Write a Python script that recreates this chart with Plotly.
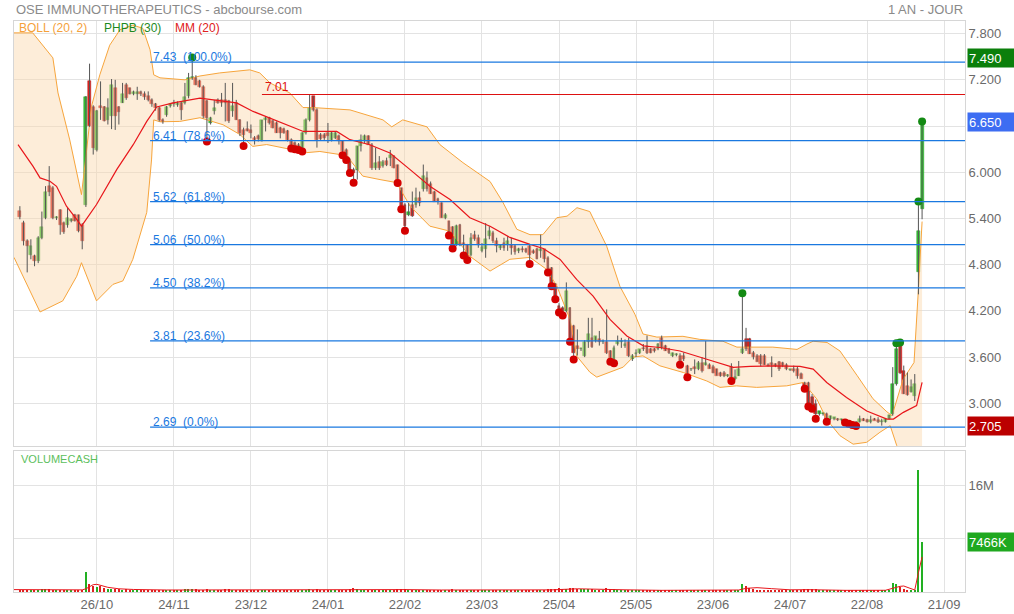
import plotly.graph_objects as go

# ---------------- DATA ----------------
opens = [
    5.50, 5.34, 5.11, 4.92, 4.91, 4.85, 5.15, 5.40, 5.82, 5.80,   # 0-9
    5.40, 5.51, 5.34, 5.31, 5.37, 5.44, 5.44, 5.31, 5.58, 7.19,   # 10-19
    6.85, 6.29, 6.86, 6.85, 6.68, 6.73, 7.09, 6.85, 6.90, 7.135,  # 20-29
    7.09, 7.02, 7.01, 7.04, 7.02, 6.99, 6.94, 6.88, 6.83, 6.68,   # 30-39
    6.75, 6.86, 6.90, 6.87, 6.90, 6.90, 6.985, 7.22, 7.22, 7.18,  # 40-49
    7.11, 6.92, 6.64, 6.79, 6.94, 6.94, 6.94, 6.92, 6.79, 6.90,   # 50-59
    6.68, 6.55, 6.56, 6.55, 6.45, 6.47, 6.40, 6.68, 6.70, 6.66,   # 60-69
    6.64, 6.57, 6.56, 6.53, 6.42, 6.38, 6.36, 6.30, 6.51, 6.68,   # 70-79
    6.985, 6.81, 6.49, 6.49, 6.51, 6.42, 6.45, 6.47, 6.40, 6.29,  # 80-89
    6.16, 6.03, 6.03, 6.34, 6.40, 6.47, 6.36, 6.06, 6.13, 6.08,   # 90-99
    6.14, 6.19, 6.21, 6.10, 5.80, 5.58, 5.45, 5.58, 5.58, 5.67,   # 100-109
    5.78, 5.93, 5.85, 5.75, 5.65, 5.60, 5.41, 5.37, 5.29, 5.06,   # 110-119
    5.32, 5.08, 5.06, 4.93, 5.19, 5.15, 4.98, 5.00, 5.17, 5.21,   # 120-129
    5.11, 5.02, 5.08, 5.06, 5.06, 5.04, 4.98, 5.00, 5.00, 5.04,   # 130-139
    4.98, 5.00, 4.98, 5.00, 4.89, 4.76, 4.55, 4.27, 4.24, 4.20,   # 140-149
    4.24, 4.00, 3.75, 3.70, 3.62, 3.79, 3.85, 3.81, 3.83, 3.79,   # 150-159
    3.79, 3.68, 3.55, 3.77, 3.79, 3.75, 3.79, 3.57, 3.64, 3.66,   # 160-169
    3.72, 3.75, 3.70, 3.70, 3.70, 3.85, 3.75, 3.70, 3.62, 3.63,   # 170-179
    3.62, 3.62, 3.49, 3.44, 3.47, 3.44, 3.53, 3.50, 3.50, 3.47,   # 180-189
    3.44, 3.40, 3.40, 3.355, 3.47, 3.31, 3.36, 3.66, 3.84, 3.84,  # 190-199
    3.65, 3.62, 3.62, 3.62, 3.50, 3.52, 3.51, 3.54, 3.53, 3.50,   # 200-209
    3.43, 3.44, 3.44, 3.38, 3.27, 3.27, 3.08, 2.99, 2.86, 2.86,   # 210-219
    2.86, 2.80, 2.80, 2.80, 2.78, 2.78, 2.76, 2.745, 2.76, 2.76,  # 220-229
    2.80, 2.79, 2.76, 2.80, 2.79, 2.755, 2.76, 2.80, 2.86, 3.25,  # 230-239
    3.77, 3.42, 3.23, 3.15, 3.10, 4.70, 5.52,                     # 240-246
]
highs = [
    5.56, 5.37, 5.13, 5.13, 4.93, 5.17, 5.49, 5.82, 6.08, 5.82,
    5.43, 5.52, 5.36, 5.54, 5.40, 5.46, 5.45, 5.34, 6.99, 7.41,
    6.87, 6.81, 7.18, 6.86, 6.96, 7.21, 7.20, 6.86, 7.16, 7.16,
    7.10, 7.06, 7.11, 7.06, 7.05, 7.05, 6.96, 6.90, 6.85, 6.70,
    6.86, 6.90, 6.94, 6.92, 6.92, 7.16, 7.29, 7.49, 7.26, 7.20,
    7.13, 6.94, 6.72, 6.94, 6.96, 7.03, 7.16, 6.94, 7.16, 6.94,
    6.69, 6.58, 6.66, 6.62, 6.47, 6.49, 6.68, 6.73, 6.72, 6.68,
    6.66, 6.59, 6.58, 6.55, 6.44, 6.40, 6.38, 6.52, 6.70, 7.01,
    6.99, 6.83, 6.51, 6.51, 6.64, 6.53, 6.53, 6.49, 6.41, 6.31,
    6.18, 6.06, 6.34, 6.49, 6.49, 6.48, 6.38, 6.32, 6.21, 6.16,
    6.19, 6.29, 6.22, 6.10, 5.80, 5.60, 5.60, 5.75, 5.80, 5.75,
    6.10, 6.01, 5.88, 5.76, 5.67, 5.61, 5.47, 5.37, 5.30, 5.32,
    5.33, 5.19, 5.07, 5.21, 5.24, 5.19, 5.08, 5.34, 5.30, 5.24,
    5.15, 5.06, 5.15, 5.17, 5.15, 5.06, 5.02, 5.04, 5.02, 5.06,
    5.00, 5.02, 5.19, 5.00, 4.91, 4.77, 4.56, 4.30, 4.26, 4.57,
    4.25, 4.02, 3.96, 3.72, 3.82, 4.11, 4.11, 3.87, 3.94, 3.83,
    4.22, 3.69, 3.75, 3.88, 3.85, 3.83, 3.85, 3.64, 3.70, 3.70,
    3.77, 3.88, 3.72, 3.72, 3.78, 3.88, 3.76, 3.72, 3.66, 3.65,
    3.65, 3.66, 3.50, 3.46, 3.57, 3.55, 3.60, 3.81, 3.52, 3.50,
    3.45, 3.41, 3.42, 3.38, 3.52, 3.44, 3.55, 4.43, 3.98, 3.85,
    3.68, 3.64, 3.64, 3.64, 3.52, 3.61, 3.52, 3.55, 3.54, 3.52,
    3.45, 3.49, 3.48, 3.40, 3.28, 3.28, 3.12, 3.05, 2.90, 2.88,
    2.88, 2.84, 2.82, 2.81, 2.80, 2.79, 2.77, 2.76, 2.77, 2.84,
    2.81, 2.80, 2.84, 2.81, 2.82, 2.80, 2.81, 2.85, 3.47, 3.78,
    3.79, 3.49, 3.40, 3.31, 3.38, 5.62, 6.66,
]
lows = [
    5.39, 5.05, 4.70, 4.87, 4.78, 4.82, 5.13, 5.39, 5.69, 5.39,
    5.38, 5.19, 5.20, 5.28, 5.35, 5.36, 5.22, 5.00, 5.55, 6.59,
    6.23, 6.27, 6.68, 6.66, 6.62, 6.56, 6.55, 6.62, 6.90, 6.94,
    7.01, 7.00, 6.94, 6.99, 6.94, 6.92, 6.85, 6.80, 6.66, 6.63,
    6.72, 6.84, 6.85, 6.85, 6.68, 6.88, 6.96, 7.20, 7.13, 7.10,
    6.70, 6.40, 6.62, 6.75, 6.89, 6.85, 6.66, 6.64, 6.72, 6.68,
    6.47, 6.34, 6.53, 6.44, 6.36, 6.40, 6.40, 6.53, 6.62, 6.57,
    6.51, 6.44, 6.50, 6.40, 6.31, 6.30, 6.29, 6.27, 6.49, 6.66,
    6.79, 6.32, 6.42, 6.42, 6.38, 6.40, 6.43, 6.36, 6.22, 6.16,
    5.99, 5.865, 5.905, 6.27, 6.38, 6.36, 6.03, 6.03, 6.03, 6.06,
    6.08, 6.08, 6.05, 5.86, 5.52, 5.24, 5.43, 5.42, 5.54, 5.56,
    5.75, 5.75, 5.72, 5.62, 5.58, 5.41, 5.39, 5.18, 5.01, 5.04,
    5.04, 4.92, 4.86, 4.91, 5.11, 5.02, 4.96, 4.89, 5.13, 5.08,
    4.96, 4.99, 4.98, 4.98, 4.93, 4.93, 4.95, 4.96, 4.95, 4.81,
    4.94, 4.87, 4.89, 4.83, 4.70, 4.52, 4.35, 4.18, 4.14, 4.18,
    3.80, 3.57, 3.62, 3.68, 3.60, 3.72, 3.72, 3.79, 3.75, 3.77,
    3.64, 3.54, 3.52, 3.75, 3.72, 3.72, 3.60, 3.55, 3.60, 3.64,
    3.68, 3.64, 3.65, 3.66, 3.69, 3.70, 3.68, 3.64, 3.60, 3.61,
    3.50, 3.55, 3.34, 3.42, 3.38, 3.43, 3.40, 3.49, 3.45, 3.39,
    3.36, 3.345, 3.34, 3.34, 3.29, 3.30, 3.355, 3.64, 3.68, 3.64,
    3.57, 3.54, 3.48, 3.50, 3.48, 3.34, 3.47, 3.42, 3.47, 3.43,
    3.42, 3.40, 3.32, 3.32, 3.19, 2.96, 2.93, 2.80, 2.84, 2.84,
    2.76, 2.78, 2.78, 2.77, 2.765, 2.75, 2.735, 2.72, 2.705, 2.75,
    2.77, 2.75, 2.74, 2.78, 2.745, 2.71, 2.75, 2.79, 2.84, 3.23,
    3.38, 3.12, 3.10, 3.14, 3.03, 4.415, 5.39,
]
closes = [
    5.42, 5.11, 5.04, 5.04, 4.85, 5.15, 5.29, 5.75, 5.74, 5.40,
    5.42, 5.32, 5.22, 5.40, 5.39, 5.37, 5.24, 5.11, 6.975, 6.60,
    6.32, 6.79, 6.83, 6.66, 6.83, 7.135, 6.725, 6.78, 7.01, 6.96,
    7.02, 7.04, 7.04, 7.01, 6.98, 6.94, 6.88, 6.83, 6.68, 6.65,
    6.85, 6.88, 6.88, 6.90, 6.81, 6.98, 7.22, 7.24, 7.135, 7.11,
    6.725, 6.70, 6.704, 6.83, 6.90, 6.90, 6.90, 6.66, 6.855, 6.68,
    6.51, 6.49, 6.54, 6.51, 6.42, 6.43, 6.68, 6.70, 6.64, 6.57,
    6.51, 6.51, 6.51, 6.42, 6.32, 6.34, 6.31, 6.51, 6.68, 6.83,
    6.81, 6.42, 6.43, 6.44, 6.47, 6.51, 6.51, 6.40, 6.27, 6.18,
    6.00, 5.99, 6.337, 6.42, 6.47, 6.36, 6.06, 6.12, 6.06, 6.13,
    6.10, 6.22, 6.06, 5.87, 5.53, 5.30, 5.49, 5.43, 5.67, 5.60,
    5.95, 5.78, 5.72, 5.62, 5.61, 5.41, 5.44, 5.19, 5.02, 5.30,
    5.05, 5.06, 4.91, 5.15, 5.13, 5.06, 5.03, 5.13, 5.24, 5.11,
    5.04, 5.06, 5.02, 5.11, 5.02, 4.96, 5.00, 4.99, 4.96, 4.93,
    4.95, 4.87, 5.00, 4.87, 4.74, 4.53, 4.36, 4.19, 4.16, 4.46,
    3.81, 3.66, 3.70, 3.72, 3.79, 3.90, 3.73, 3.87, 3.80, 3.81,
    3.66, 3.55, 3.72, 3.81, 3.81, 3.77, 3.62, 3.62, 3.66, 3.70,
    3.70, 3.66, 3.66, 3.68, 3.77, 3.72, 3.68, 3.65, 3.65, 3.64,
    3.51, 3.57, 3.38, 3.45, 3.44, 3.53, 3.42, 3.53, 3.45, 3.40,
    3.36, 3.35, 3.35, 3.37, 3.30, 3.34, 3.45, 3.70, 3.70, 3.64,
    3.60, 3.54, 3.51, 3.50, 3.48, 3.50, 3.48, 3.44, 3.48, 3.44,
    3.45, 3.42, 3.36, 3.32, 3.19, 2.97, 2.94, 2.86, 2.90, 2.88,
    2.78, 2.84, 2.82, 2.78, 2.80, 2.755, 2.74, 2.725, 2.72, 2.80,
    2.775, 2.755, 2.79, 2.775, 2.76, 2.775, 2.80, 2.85, 3.25, 3.71,
    3.40, 3.12, 3.11, 3.21, 3.25, 5.235, 6.65,
]
volumes_k = [
    350, 300, 320, 250, 280, 300, 380, 420, 450, 350, 280, 300, 250, 230, 200, 220, 260, 350,
    3000,
    1150, 950, 750, 900, 550,
    450, 500, 400, 520, 350, 380, 320,
    260, 220, 240, 200, 260, 300, 220, 240, 200, 210, 260, 230, 300, 350, 420,
    480, 520, 380, 320, 300, 450, 320, 280, 220, 300, 480, 520, 330, 280, 330,
    300, 250, 260, 280, 240, 350, 280, 230, 220, 260, 240, 220, 260, 300, 260,
    240, 320, 350, 420, 330, 380, 260, 230, 250, 240, 220, 250, 300, 330, 380,
    560, 380, 300, 260, 280, 350, 300, 260, 240, 230, 260, 280, 380, 450, 480,
    330, 300, 320, 260, 350, 300, 260, 280, 240, 330, 260, 350, 400, 330, 300,
    320, 350, 330, 260, 240, 230, 300, 260, 240, 250, 220, 240, 230, 260, 240,
    200, 220, 210, 300, 220, 260, 300, 280, 380, 450, 500, 550, 520, 480, 600,
    650, 500, 400, 420, 450, 480, 350, 330, 300, 600, 450, 420, 350, 300, 280,
    330, 260, 250, 240, 230, 280, 230, 220, 240, 260, 230, 220, 200, 210, 300,
    260, 330, 230, 240, 260, 280, 350, 250, 260, 240, 280, 240, 220, 300, 260,
    350, 1150, 950, 550, 400, 330, 300, 280, 260, 300, 250, 260, 240, 230, 220,
    350, 330, 300, 400, 450, 420, 380, 260, 240, 280,
    240, 200, 220, 200, 230, 240, 220, 260, 240, 200,
    220, 210, 200, 220, 240, 280, 300,
    1350, 1150, 700, 420, 300, 250, 230, 18260, 7466,
]

tick_labels = ["26/10", "24/11", "23/12", "24/01", "22/02", "23/03",
               "25/04", "25/05", "23/06", "24/07", "22/08", "21/09"]
days_per_tick = 21

# Bollinger (20, 2) bands and MM (20) at sample days
boll_upper_idx = [-1.6, 3.5, 9.0, 10.4, 13.6, 16.8, 18.0, 19.5, 21.8, 24.5, 27.3, 30.8, 33.5, 35.5,
                  36.5, 38.2, 45, 49.1, 54.5, 62.7, 65.4, 68.2, 73.6, 77.2, 79.9, 90, 99, 101.4,
                  104.4, 111, 114.5, 120.8, 128.2, 131.7, 135.5, 139.1, 142.6, 146.4, 149.2,
                  151.9, 155.4, 160, 163.6, 167.7, 169.9, 173.7, 180.8, 185.4, 191.7, 195.5,
                  205.3, 211.9, 214.6, 216.3, 220.1, 223.6, 228.3, 232.6, 236.4, 237.8, 240.8,
                  243.8, 245, 246]
boll_upper = [7.81, 7.81, 7.485, 7.03, 6.42, 5.71, 6.20, 6.85, 7.265, 7.65, 7.85, 7.91, 7.87, 7.59,
              7.265, 7.226, 7.20, 7.25, 7.29, 7.33, 7.29, 7.16, 7.03, 6.84, 6.84, 6.81, 6.68, 6.59,
              6.68, 6.59, 6.36, 6.125, 5.88, 5.61, 5.26, 5.19, 5.19, 5.41, 5.43,
              5.54, 5.49, 5.04, 4.52, 4.156, 3.90, 3.86, 3.87, 3.83, 3.806, 3.73,
              3.73, 3.70, 3.77, 3.806, 3.79, 3.68, 3.36, 3.06, 2.89, 2.84, 3.31,
              3.53, 4.48, 5.36]
boll_lower_idx = [-1.6, 5.5, 11.7, 15.5, 16.8, 20.9, 25.4, 28.1, 30.8, 34.6, 35.9, 36.5, 38.2, 43.6,
                  49.1, 55.4, 60, 63.5, 67.3, 73.6, 78.2, 81.8, 87.3, 90, 93.5, 98.2, 102.7, 106.4,
                  111.8, 117.3, 122.7, 128.2, 133.6, 139.1, 143.6, 146.4, 150, 151.8, 155.4, 157.3,
                  160.9, 164.5, 167.2, 169.9, 174.5, 180.9, 187.3, 190.9, 195.4, 200.9, 209.1,
                  213.6, 217.3, 220, 223.6, 227.2, 230.9, 234.5, 237.3, 239.1, 241, 244, 246]
boll_lower = [4.895, 4.186, 4.33, 4.65, 4.826, 4.33, 4.545, 4.59, 4.87, 5.48, 6.16, 6.68, 6.656, 6.66,
              6.708, 6.617, 6.49, 6.336, 6.36, 6.294, 6.255, 6.27, 6.23, 6.16, 5.95, 5.905, 5.866, 5.56,
              5.30, 5.235, 4.91, 4.717, 4.87, 4.895, 4.74, 4.523, 4.09, 3.616, 3.405, 3.34,
              3.405, 3.47, 3.60, 3.616, 3.487, 3.40, 3.29, 3.207, 3.227, 3.207, 3.227,
              3.27, 3.055, 2.79, 2.58, 2.47, 2.494, 2.624, 2.71, 2.45, 2.1, 1.9, 1.5]
mm_idx = [-0.5, 3.6, 5.5, 8.2, 10, 12.7, 15.5, 16.8, 20.9, 26.4, 30.9, 34.6, 37.3, 41.8, 49.1, 55.4,
          59.1, 63.6, 69.1, 73.6, 77.3, 86.4, 90, 95.4, 100.9, 106.4, 111.8, 117.3, 122.7, 128.2,
          133.6, 139.1, 142.7, 147.3, 151.8, 156.3, 160.9, 165.5, 170, 174.5, 180, 187.3, 194.5,
          199.1, 205.4, 212.7, 216.3, 220, 225.4, 230.9, 236.4, 238.2, 240.9, 244.5, 246]
mm = [6.358, 6.077, 5.927, 5.883, 5.818, 5.559, 5.387, 5.30, 5.581, 6.034, 6.358, 6.66, 6.847, 6.90,
      6.963, 6.92, 6.90, 6.79, 6.682, 6.595, 6.53, 6.53, 6.423, 6.358, 6.25, 6.034, 5.818, 5.646,
      5.409, 5.30, 5.154, 5.063, 5.011, 4.869, 4.61, 4.393, 4.09, 3.875, 3.746, 3.725, 3.68, 3.573,
      3.466, 3.479, 3.487, 3.479, 3.444, 3.271, 3.077, 2.90, 2.796, 2.796, 2.883, 2.97, 3.271]
vol_mm_idx = [-1.6, 8, 17, 18, 19, 20, 21, 22, 24, 27, 31, 40, 50, 60, 75, 90, 100, 105, 115, 130,
              145, 152, 158, 165, 175, 190, 196, 198, 201, 205, 210, 215, 225, 236, 238, 240, 241,
              243, 244, 245, 246]
vol_mm_k = [360, 330, 320, 480, 850, 1100, 1150, 1000, 700, 480, 380, 300, 320, 300, 280, 300, 320,
            360, 300, 260, 320, 480, 450, 330, 250, 260, 300, 550, 650, 500, 330, 350, 250, 260,
            600, 850, 900, 500, 300, 2900, 5250]

fib_levels = [7.43, 6.41, 5.62, 5.06, 4.50, 3.81, 2.69]
fib_pcts = ["100.0%", "78.6%", "61.8%", "50.0%", "38.2%", "23.6%", "0.0%"]
fib_start_day = 35.5
resistance_level = 7.01
resistance_start_day = 66

phpb_low_days = [51, 61, 74, 75, 76, 77, 88, 89, 90, 91, 103, 104, 105, 117, 118, 121, 122, 139,
                 144, 145, 146, 147, 148, 150, 151, 161, 162, 180, 182, 194, 214, 215, 216, 217,
                 220, 225, 226, 227, 228]
phpb_high_days = [47, 197, 239, 240, 245, 246]

max_price = 7.490
min_price = 2.705
last_price = closes[-1]
last_volume_k = volumes_k[-1]

# ---------------- FIGURE ----------------
n = len(closes)
assert len(opens) == n and len(highs) == n and len(lows) == n and len(volumes_k) == n, \
    (len(opens), len(highs), len(lows), len(closes), len(volumes_k))
days = list(range(n))

W, H = 1014, 614
ML, MR, MT, MB = 14, 49, 21, 22
PW, PH = W - ML - MR, H - MT - MB
X_RANGE = [-1.6, 257.7]
Y_RANGE = [2.446, 7.964]
V_RANGE = [0, 21.15e6]


def pxx(px):
    return (px - ML) / PW


def pxy(py):
    return (H - MB - py) / PH


GREEN = "#33c633"
GREEN_EDGE = "#229922"
RED = "#e0241e"
RED_EDGE = "#b01010"
ORANGE = "#f7a53c"
BLUE = "#1a78e0"
FONT = "Arial, Liberation Sans, sans-serif"

fig = go.Figure()

# Bollinger bands
fig.add_trace(go.Scatter(x=boll_upper_idx, y=boll_upper, mode="lines",
                         line=dict(color=ORANGE, width=1), xaxis="x", yaxis="y",
                         hoverinfo="skip", showlegend=False))
fig.add_trace(go.Scatter(x=boll_lower_idx, y=boll_lower, mode="lines",
                         line=dict(color=ORANGE, width=1), fill="tonexty",
                         fillcolor="rgba(251,214,170,0.45)", xaxis="x", yaxis="y",
                         hoverinfo="skip", showlegend=False))

# wicks
wx, wy = [], []
for i in days:
    wx += [i, i, None]
    wy += [lows[i], highs[i], None]
fig.add_trace(go.Scatter(x=wx, y=wy, mode="lines", line=dict(color="#555555", width=1),
                         xaxis="x", yaxis="y", hoverinfo="skip", showlegend=False))

# bodies
up = [c >= o for o, c in zip(opens, closes)]
body_base = [min(o, c) for o, c in zip(opens, closes)]
body_h = [max(abs(c - o), 0.012) for o, c in zip(opens, closes)]
fig.add_trace(go.Bar(x=days, y=body_h, base=body_base, width=0.8,
                     marker=dict(color=[GREEN if u else RED for u in up],
                                 line=dict(color=[GREEN_EDGE if u else RED_EDGE for u in up], width=0.5)),
                     xaxis="x", yaxis="y", hoverinfo="skip", showlegend=False))

# MM 20
fig.add_trace(go.Scatter(x=mm_idx, y=mm, mode="lines", line=dict(color="#e8161b", width=1.2),
                         xaxis="x", yaxis="y", hoverinfo="skip", showlegend=False))

# PHPB markers
fig.add_trace(go.Scatter(x=phpb_low_days, y=[lows[i] for i in phpb_low_days], mode="markers",
                         marker=dict(color="#d40000", size=8), xaxis="x", yaxis="y",
                         hoverinfo="skip", showlegend=False))
fig.add_trace(go.Scatter(x=phpb_high_days, y=[highs[i] for i in phpb_high_days], mode="markers",
                         marker=dict(color="#138a13", size=8), xaxis="x", yaxis="y",
                         hoverinfo="skip", showlegend=False))

# volume
fig.add_trace(go.Bar(x=days, y=[v * 1000 for v in volumes_k], width=0.4,
                     marker=dict(color=["#22b022" if u else "#e02020" for u in up], line=dict(width=0)),
                     xaxis="x2", yaxis="y2", hoverinfo="skip", showlegend=False))
fig.add_trace(go.Scatter(x=vol_mm_idx, y=[v * 1000 for v in vol_mm_k], mode="lines",
                         line=dict(color="#e8161b", width=1), xaxis="x2", yaxis="y2",
                         hoverinfo="skip", showlegend=False))

# Fibonacci & resistance lines
shapes = []
annotations = []
for lvl, pct in zip(fib_levels, fib_pcts):
    shapes.append(dict(type="line", xref="x", yref="y", x0=fib_start_day, x1=X_RANGE[1],
                       y0=lvl, y1=lvl, line=dict(color=BLUE, width=1.3)))
    annotations.append(dict(xref="x", yref="y", x=fib_start_day + 0.2, y=lvl,
                            text=f"{lvl:.2f}\u00a0\u00a0({pct})", showarrow=False,
                            xanchor="left", yanchor="middle", yshift=5,
                            font=dict(family=FONT, size=12, color=BLUE)))
shapes.append(dict(type="line", xref="x", yref="y", x0=resistance_start_day, x1=X_RANGE[1],
                   y0=resistance_level, y1=resistance_level, line=dict(color="#dd1111", width=1.1)))
annotations.append(dict(xref="x", yref="y", x=resistance_start_day + 0.2, y=resistance_level,
                        text=f"{resistance_level:.2f}", showarrow=False, xanchor="left",
                        yanchor="middle", yshift=7, font=dict(family=FONT, size=12, color="#dd1111")))

# header / legend texts
annotations += [
    dict(xref="paper", yref="paper", x=pxx(14), y=pxy(10), text="OSE IMMUNOTHERAPEUTICS - abcbourse.com",
         showarrow=False, xanchor="left", yanchor="middle", font=dict(family=FONT, size=13, color="#8a8a8a")),
    dict(xref="paper", yref="paper", x=pxx(965), y=pxy(10), text="1 AN - JOUR",
         showarrow=False, xanchor="right", yanchor="middle", font=dict(family=FONT, size=13, color="#8a8a8a")),
    dict(xref="paper", yref="paper", x=pxx(17), y=pxy(28), text="BOLL (20, 2)", showarrow=False,
         xanchor="left", yanchor="middle", font=dict(family=FONT, size=12, color="#f5a13a")),
    dict(xref="paper", yref="paper", x=pxx(102), y=pxy(28), text="PHPB (30)", showarrow=False,
         xanchor="left", yanchor="middle", font=dict(family=FONT, size=12, color="#1e8a1e")),
    dict(xref="paper", yref="paper", x=pxx(173), y=pxy(28), text="MM (20)", showarrow=False,
         xanchor="left", yanchor="middle", font=dict(family=FONT, size=12, color="#e02020")),
    dict(xref="paper", yref="paper", x=pxx(19), y=pxy(459), text="VOLUMECASH", showarrow=False,
         xanchor="left", yanchor="middle", font=dict(family=FONT, size=11, color="#5cc05c")),
]


# value boxes on the right axis
def box(y, yref, text, bg):
    return dict(xref="paper", yref=yref, x=pxx(967), y=y, text=text, showarrow=False,
                xanchor="left", yanchor="middle", align="left", width=44, height=16,
                bgcolor=bg, borderpad=1, font=dict(family=FONT, size=13, color="white"))


annotations += [
    box(max_price, "y", f"{max_price:.3f}", "#0b7f0b"),
    box(last_price, "y", f"{last_price:.3f}", "#3d6df2"),
    box(min_price, "y", f"{min_price:.3f}", "#bb0000"),
    box(last_volume_k * 1000, "y2", f"{last_volume_k}K", "#1fa81f"),
]

tickvals = [days_per_tick * (k + 1) for k in range(len(tick_labels))]
price_ticks = [3.0 + 0.6 * k for k in range(9)]
# the 6.600 label is hidden behind the last-price box in the reference
price_ticktext = ["" if abs(v - 6.6) < 1e-6 else f"{v:.3f}" for v in price_ticks]

axis_common = dict(showline=True, mirror=True, linecolor="#d6d6d6", linewidth=1,
                   gridcolor="#e3e3e3", gridwidth=1, zeroline=False, ticks="", automargin=False,
                   tickfont=dict(family=FONT, size=13, color="#6a6a6a"))

fig.update_layout(
    width=W, height=H, margin=dict(l=ML, r=MR, t=MT, b=MB, autoexpand=False),
    paper_bgcolor="white", plot_bgcolor="white", showlegend=False,
    bargap=0, barmode="overlay",
    xaxis=dict(domain=[0, 1], range=X_RANGE, anchor="y", tickvals=tickvals,
               showticklabels=False, **axis_common),
    xaxis2=dict(domain=[0, 1], range=X_RANGE, anchor="y2", matches="x", tickvals=tickvals,
                ticktext=tick_labels, **axis_common),
    yaxis=dict(domain=[pxy(446), 1], range=Y_RANGE, side="right", anchor="x",
               tickvals=price_ticks, ticktext=price_ticktext, **axis_common),
    yaxis2=dict(domain=[0, pxy(451)], range=V_RANGE, side="right", anchor="x2",
                tickvals=[8e6, 16e6], ticktext=["", "16M"], **axis_common),
    shapes=shapes, annotations=annotations, hovermode=False,
)

fig.write_html("out.html", config={"displayModeBar": False},
               post_script="document.body.style.margin='0px';document.body.style.overflow='hidden';")
